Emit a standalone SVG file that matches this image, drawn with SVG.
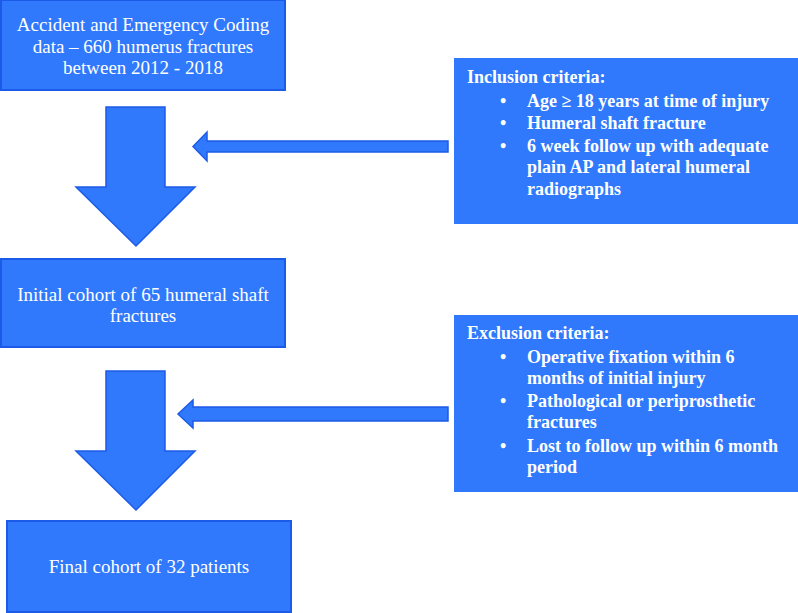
<svg xmlns="http://www.w3.org/2000/svg" width="798" height="613" viewBox="0 0 798 613">
<style>
.box{fill:#3079FC;stroke:#1C5BE8;stroke-width:2}
.crit{fill:#3079FC}
.arr{fill:#3079FC;stroke:#1C5BE8;stroke-width:1.5;stroke-linejoin:miter}
.t{font-family:"Liberation Serif","Times New Roman",serif;font-size:19px;fill:#fff;text-anchor:middle}
.b{font-family:"Liberation Serif","Times New Roman",serif;font-size:18px;font-weight:bold;fill:#fff}
</style>
<rect width="798" height="613" fill="#fff"/>
<g id="connectors">
<polygon class="arr" points="106,107 165,107 165,187 195,187 136,246 76,187 106,187"/>
<polygon class="arr" points="448,141 207,141 207,132 193,146.5 207,161 207,152 448,152"/>
<polygon class="arr" points="106,371 165,371 165,451 195,451 136,510 76,451 106,451"/>
<polygon class="arr" points="448,407 193,407 193,400 178,414 193,428 193,421 448,421"/>
</g>
<g id="node-ae">
<rect class="box" x="1" y="0" width="284" height="90"/>
<text class="t" x="143" y="31">Accident and Emergency Coding</text>
<text class="t" x="143" y="53">data – 660 humerus fractures</text>
<text class="t" x="143" y="74">between 2012 - 2018</text>
</g>
<g id="node-initial">
<rect class="box" x="1" y="259" width="284" height="88"/>
<text class="t" x="143" y="301">Initial cohort of 65 humeral shaft</text>
<text class="t" x="143" y="322">fractures</text>
</g>
<g id="node-final">
<rect class="box" x="7" y="521" width="284" height="91"/>
<text class="t" x="149" y="573">Final cohort of 32 patients</text>
</g>
<g id="node-inclusion">
<rect class="crit" x="454" y="58" width="344" height="166"/>
<text class="b" x="467" y="83">Inclusion criteria:</text>
<text class="b" x="500" y="107">•</text><text class="b" x="527" y="107">Age ≥ 18 years at time of injury</text>
<text class="b" x="500" y="129">•</text><text class="b" x="527" y="129">Humeral shaft fracture</text>
<text class="b" x="500" y="152">•</text><text class="b" x="527" y="152">6 week follow up with adequate</text>
<text class="b" x="527" y="173">plain AP and lateral humeral</text>
<text class="b" x="527" y="195">radiographs</text>
</g>
<g id="node-exclusion">
<rect class="crit" x="454" y="315" width="344" height="177"/>
<text class="b" x="467" y="339">Exclusion criteria:</text>
<text class="b" x="500" y="363">•</text><text class="b" x="527" y="363">Operative fixation within 6</text>
<text class="b" x="527" y="384">months of initial injury</text>
<text class="b" x="500" y="407">•</text><text class="b" x="527" y="407">Pathological or periprosthetic</text>
<text class="b" x="527" y="428">fractures</text>
<text class="b" x="500" y="452">•</text><text class="b" x="527" y="452">Lost to follow up within 6 month</text>
<text class="b" x="527" y="473">period</text>
</g>
</svg>
